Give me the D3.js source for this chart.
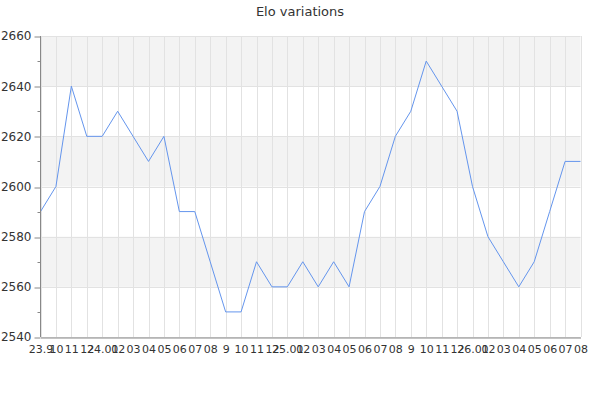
<!DOCTYPE html>
<html><head><meta charset="utf-8">
<script src="https://cdn.jsdelivr.net/npm/d3@7"></script>
<style>body{margin:0;background:#fff;}svg{display:block;font-family:"DejaVu Sans",sans-serif;}</style>
</head><body>
<svg id="c" width="600" height="400"></svg>
<script>
const months = ["23.9","10","11","12","24.01","02","03","04","05","06","07","08","9","10","11","12","25.01","02","03","04","05","06","07","08","9","10","11","12","26.01","02","03","04","05","06","07","08"];
const elo = [2590,2600,2640,2620,2620,2630,2620,2610,2620,2590,2590,2570,2550,2550,2570,2560,2560,2570,2560,2570,2560,2590,2600,2620,2630,2650,2640,2630,2600,2580,2570,2560,2570,2590,2610,2610];
const yMajor = [2540,2560,2580,2600,2620,2640,2660];
const yMinor = [2550,2570,2590,2610,2630,2650];
const title = "Elo variations";

const svg = d3.select("#c");
const L=40.5, R=580.5, T=36, B=337;
const x = d3.scalePoint().domain(d3.range(months.length)).range([L,R]);
const y = d3.scaleLinear().domain([2540,2660]).range([B,T]);

// bands
const bands = [];
for (let i=0;i<yMajor.length-1;i++) if ((yMajor.length-2-i)%2===0) bands.push([yMajor[i],yMajor[i+1]]);
svg.append("g").selectAll("rect").data(bands).join("rect")
  .attr("x",L).attr("width",R-L)
  .attr("y",d=>y(d[1])).attr("height",d=>y(d[0])-y(d[1]))
  .attr("fill","#f3f3f3");

// vertical grid
svg.append("g").selectAll("line").data(d3.range(months.length)).join("line")
  .attr("x1",d=>Math.round(x(d))+0.5).attr("x2",d=>Math.round(x(d))+0.5)
  .attr("y1",T).attr("y2",B).attr("stroke","#e2e2e2").attr("stroke-width",1);
// horizontal grid
svg.append("g").selectAll("line").data(yMajor).join("line")
  .attr("x1",L).attr("x2",R).attr("y1",d=>Math.round(y(d))+0.5).attr("y2",d=>Math.round(y(d))+0.5)
  .attr("stroke","#e2e2e2");

// line
svg.append("path").datum(elo)
  .attr("d", d3.line().x((d,i)=>x(i)).y(d=>y(d)))
  .attr("fill","none").attr("stroke","#6495ed").attr("stroke-width",1);

// y axis
const ya = svg.append("g").attr("transform",`translate(${L},0)`)
  .call(d3.axisLeft(y).tickValues(yMajor).tickSize(6).tickPadding(3).tickFormat(d3.format("d")));
ya.select(".domain").remove();
ya.selectAll("line").attr("stroke","#888").attr("transform",d=>`translate(0,${Math.round(y(d))+0.5-y(d)})`);
ya.selectAll("text").attr("font-size",12).attr("fill","#333").attr("font-family","DejaVu Sans");
svg.append("g").selectAll("line").data(yMinor).join("line")
  .attr("x1",L-3).attr("x2",L).attr("y1",d=>Math.round(y(d))+0.5).attr("y2",d=>Math.round(y(d))+0.5)
  .attr("stroke","#888");
svg.append("line").attr("x1",L).attr("x2",L).attr("y1",T).attr("y2",B).attr("stroke","#888");

// x axis
const xa = svg.append("g").attr("transform",`translate(0,${Math.round(B)+0.5})`)
  .call(d3.axisBottom(x).tickSize(0).tickPadding(8).tickFormat(i=>months[i]));
xa.select(".domain").attr("stroke","#888");
xa.selectAll("text").attr("font-size",11).attr("fill","#333").attr("font-family","DejaVu Sans");

svg.append("text").attr("x",300).attr("y",16).attr("text-anchor","middle")
  .attr("font-size",13).attr("fill","#333").text(title);
</script>
</body></html>
